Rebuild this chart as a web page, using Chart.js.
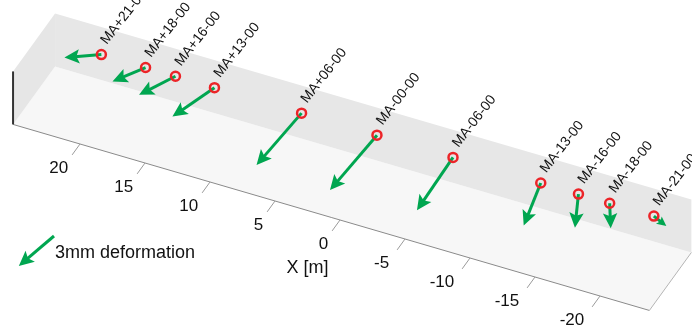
<!DOCTYPE html>
<html>
<head>
<meta charset="utf-8">
<title>Station deformation</title>
<script src="https://cdn.jsdelivr.net/npm/chart.js@4.4.1/dist/chart.umd.min.js"></script>
<style>
  html, body { margin: 0; padding: 0; background: #fff; }
  #wrap { width: 692px; height: 326px; position: relative; }
</style>
</head>
<body>
<div id="wrap"><canvas id="defChart"></canvas></div>
<script>
/* ========= STATION DATA ========= */
const stationNames = ["MA+21-00", "MA+18-00", "MA+16-00", "MA+13-00", "MA+06-00", "MA-00-00",
                      "MA-06-00", "MA-13-00", "MA-16-00", "MA-18-00", "MA-21-00"];
const stationX = [21.2, 17.8, 15.5, 12.5, 5.8, 0, -5.85, -12.6, -15.5, -17.9, -21.3]; // m
const deformX = [2.10, 1.88, 2.07, 2.39, 2.56, 2.67, 2.05, 0.97, 0.20, -0.06, -0.71]; // mm
const deformZ = [-0.77, -1.32, -1.63, -2.30, -3.63, -3.83, -3.54, -2.65, -1.93, -1.38, -0.35]; // mm

const xTicks = [20, 15, 10, 5, 0, -5, -10, -15, -20];
const refDeform = [2.0, -2.25];          // reference arrow, X/Z components (3 mm)
const refLabel = "3mm deformation";
const xTitle = "X [m]";

/* ========= VIEW SETUP ========= */
const X_LIM = [-23.8, 25.15];
const Y_LIM = [0, 4];
const Z_LIM = [0, 4];
const STATION_Y = 3.52;
const STATION_Z = 2.55;
const MM_TO_M = 1.353;                   // arrow exaggeration

// oblique camera: view offset per metre along each world axis
const VIEW = { ox: 340, oy: 220, ax: [-13, -3.8], ay: [10.5, -14.5], az: [0, -13.25] };

const GREEN = "rgb(0,166,80)";
const RED = "rgb(236,36,40)";
const FONT = "'Liberation Sans', Arial, Helvetica, sans-serif";

function project(x, y, z) {
  return {
    x: VIEW.ox + x * VIEW.ax[0] + y * VIEW.ay[0] + z * VIEW.az[0],
    y: VIEW.oy + x * VIEW.ax[1] + y * VIEW.ay[1] + z * VIEW.az[1]
  };
}

function toPx(chart, p) {
  return { x: chart.scales.x.getPixelForValue(p.x), y: chart.scales.y.getPixelForValue(p.y) };
}

function headSize(len) {
  return Math.min(15, len * 0.6);
}

/* ========= ARROWS ========= */
const arrows = stationX.map((x, i) => {
  const p0 = project(x, STATION_Y, STATION_Z);
  const p1 = project(x + deformX[i] * MM_TO_M, STATION_Y, STATION_Z + deformZ[i] * MM_TO_M);
  const dx = p1.x - p0.x, dy = p1.y - p0.y;
  const len = Math.hypot(dx, dy);
  const cut = headSize(len) * 0.7 / len;
  return { p0, p1, shaftEnd: { x: p1.x - dx * cut, y: p1.y - dy * cut } };
});

const shaftSets = arrows.map(a => ({
  data: [a.p0, a.shaftEnd],
  showLine: true,
  borderColor: GREEN,
  borderWidth: 3,
  borderCapStyle: "butt",
  pointRadius: 0,
  order: 2
}));

const stationSet = {
  data: stationX.map(x => project(x, STATION_Y, STATION_Z)),
  showLine: false,
  pointRadius: 4.5,
  pointBorderWidth: 2.5,
  pointBorderColor: RED,
  pointBackgroundColor: "rgba(0,0,0,0)",
  order: 1
};

function fillPoly(ctx, pts, color) {
  ctx.beginPath();
  pts.forEach((p, i) => i ? ctx.lineTo(p.x, p.y) : ctx.moveTo(p.x, p.y));
  ctx.closePath();
  ctx.fillStyle = color;
  ctx.fill();
}

function line(ctx, a, b, color, w) {
  ctx.beginPath();
  ctx.moveTo(a.x, a.y);
  ctx.lineTo(b.x, b.y);
  ctx.strokeStyle = color;
  ctx.lineWidth = w;
  ctx.stroke();
}

function arrowHead(ctx, a, b) {
  const dx = b.x - a.x, dy = b.y - a.y;
  const len = Math.hypot(dx, dy);
  const ux = dx / len, uy = dy / len;
  const h = headSize(len), hw = h * 0.48;
  const bx = b.x - ux * h, by = b.y - uy * h;
  ctx.beginPath();
  ctx.moveTo(b.x, b.y);
  ctx.lineTo(bx - uy * hw, by + ux * hw);
  ctx.lineTo(b.x - ux * h * 0.8, b.y - uy * h * 0.8);
  ctx.lineTo(bx + uy * hw, by - ux * hw);
  ctx.closePath();
  ctx.fillStyle = GREEN;
  ctx.fill();
}

/* ========= BOX + AXIS ========= */
const boxPlugin = {
  id: "box3d",
  beforeDatasetsDraw(chart) {
    const ctx = chart.ctx;
    const P = (x, y, z) => toPx(chart, project(x, y, z));
    const [x0, x1] = X_LIM, [y0, y1] = Y_LIM, [z0, z1] = Z_LIM;
    ctx.save();
    fillPoly(ctx, [P(x1, y0, z0), P(x0, y0, z0), P(x0, y1, z0), P(x1, y1, z0)], "#f7f7f7");
    fillPoly(ctx, [P(x1, y1, z0), P(x0, y1, z0), P(x0, y1, z1), P(x1, y1, z1)], "#e7e7e7");
    fillPoly(ctx, [P(x1, y0, z0), P(x1, y1, z0), P(x1, y1, z1), P(x1, y0, z1)], "#e6e6e6");
    line(ctx, P(x1, y0, z0), P(x0, y0, z0), "#8a8a8a", 1);
    line(ctx, P(x0, y0, z0), P(x0, y1, z0), "#b5b5b5", 1);
    line(ctx, P(x1, y0, z0), P(x1, y0, z1), "#333", 2);

    xTicks.forEach(t => line(ctx, P(t, y0, z0), P(t, y0 - 0.75, z0), "#9a9a9a", 1));
    ctx.restore();
  },
  afterDatasetsDraw(chart) {
    const ctx = chart.ctx;
    const P = (x, y, z) => toPx(chart, project(x, y, z));
    ctx.save();

    arrows.forEach(a => arrowHead(ctx, toPx(chart, a.p0), toPx(chart, a.p1)));

    // station names
    ctx.fillStyle = "#111";
    ctx.font = "14px " + FONT;
    ctx.textAlign = "left";
    ctx.textBaseline = "alphabetic";
    stationX.forEach((x, i) => {
      const p = P(x, STATION_Y, STATION_Z);
      ctx.save();
      ctx.translate(p.x + 5.5, p.y - 9.5);
      ctx.rotate(-52 * Math.PI / 180);
      ctx.fillText(stationNames[i], 0, 0);
      ctx.restore();
    });

    // tick labels (negative ones sit a little further out)
    ctx.font = "17px " + FONT;
    ctx.textAlign = "right";
    ctx.textBaseline = "middle";
    xTicks.forEach(t => {
      const p = P(t, -1.6, 0);
      ctx.fillText(String(t), p.x + (t < 0 ? 1 : 5), p.y + 1);
    });

    // axis title
    ctx.textAlign = "center";
    ctx.font = "18px " + FONT;
    const tp = P(0, -3.1, 0);
    ctx.fillText(xTitle, tp.x, tp.y + 3);

    // reference arrow
    const sx = chart.scales.x, sy = chart.scales.y;
    const tail = { x: 54, y: 236 };
    const v = {
      x: MM_TO_M * (refDeform[0] * VIEW.ax[0] + refDeform[1] * VIEW.az[0]),
      y: MM_TO_M * (refDeform[0] * VIEW.ax[1] + refDeform[1] * VIEW.az[1])
    };
    const tip = {
      x: tail.x + sx.getPixelForValue(v.x) - sx.getPixelForValue(0),
      y: tail.y + sy.getPixelForValue(v.y) - sy.getPixelForValue(0)
    };
    const len = Math.hypot(tip.x - tail.x, tip.y - tail.y);
    const cut = headSize(len) * 0.7 / len;
    line(ctx, tail, { x: tip.x - (tip.x - tail.x) * cut, y: tip.y - (tip.y - tail.y) * cut }, GREEN, 3);
    arrowHead(ctx, tail, tip);

    ctx.fillStyle = "#111";
    ctx.font = "18px " + FONT;
    ctx.textAlign = "left";
    ctx.textBaseline = "alphabetic";
    ctx.fillText(refLabel, 55, 258);
    ctx.restore();
  }
};

/* ========= CHART ========= */
new Chart(document.getElementById("defChart"), {
  type: "scatter",
  data: { datasets: [stationSet, ...shaftSets] },
  options: {
    responsive: true,
    maintainAspectRatio: false,
    animation: false,
    events: [],
    layout: { padding: 0, autoPadding: false },
    scales: {
      x: { type: "linear", min: 0, max: 692, display: false },
      y: { type: "linear", min: 0, max: 326, reverse: true, display: false }
    },
    plugins: { legend: { display: false }, tooltip: { enabled: false } }
  },
  plugins: [boxPlugin]
});
</script>
</body>
</html>
